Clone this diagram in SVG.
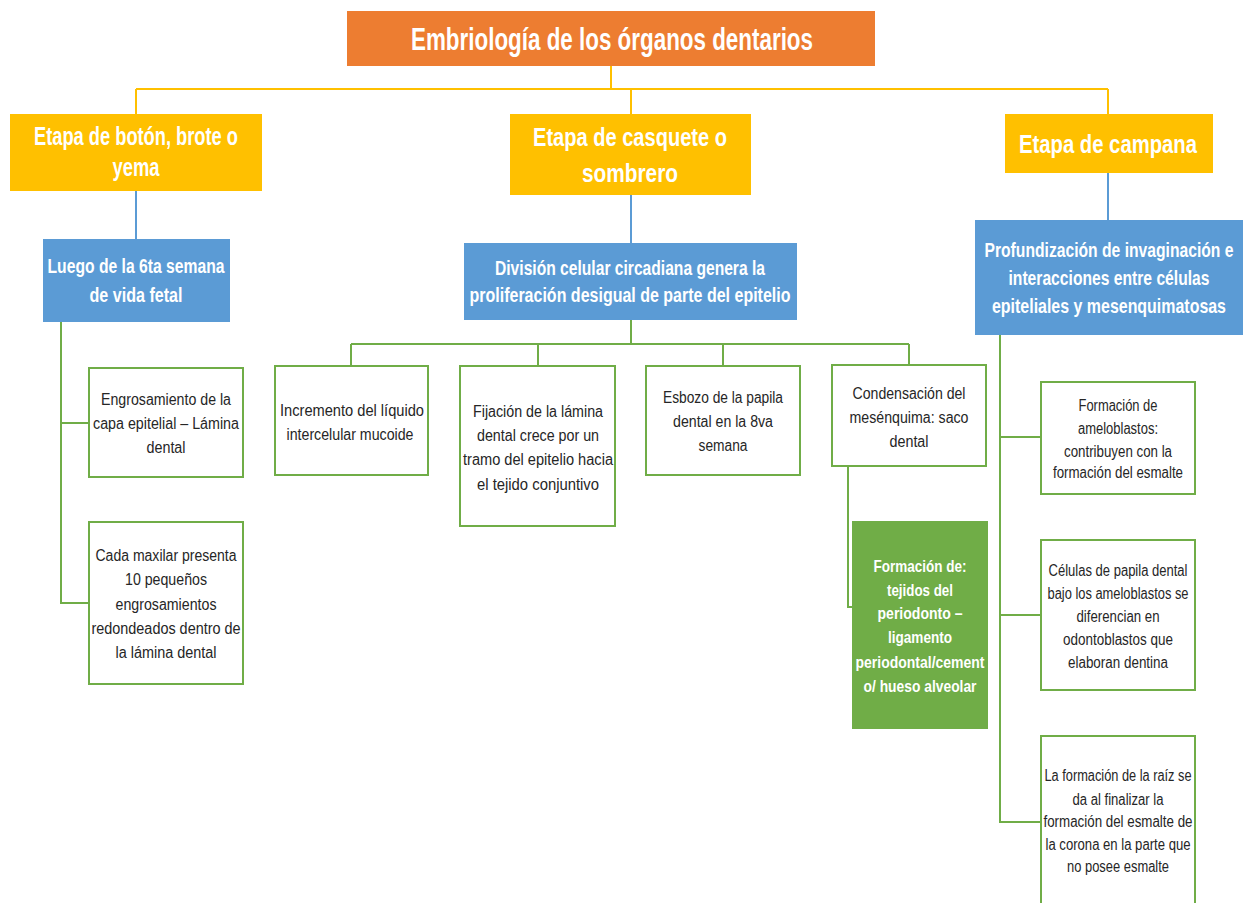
<svg xmlns="http://www.w3.org/2000/svg" width="1248" height="903" viewBox="0 0 1248 903">
<style>
text{font-family:"Liberation Sans",Arial,sans-serif;text-anchor:middle}
.t{fill:#fff;font-weight:bold}
.d{fill:#262626;font-size:16px}
.c{fill:none;stroke-width:2}
.y{stroke:#FFC000}
.b{stroke:#5B9BD5}
.g{stroke:#70AD47}
.gb{fill:#fff;stroke:#70AD47;stroke-width:2}
</style>
<rect width="1248" height="903" fill="#fff"/>
<g id="connectors">
<path class="c y" d="M611 66V89M136 89H1108M136 89V114M631 89V114M1108 89V114"/>
<path class="c b" d="M136 191V239M631 195V243M1108 173V220"/>
<path class="c g" d="M61 322V603H89M61 423H89"/>
<path class="c g" d="M631 320V344M351 344H909M351 344V366M538 344V366M723 344V366M909 344V365"/>
<path class="c g" d="M848 466V607H852"/>
<path class="c g" d="M1000 335V822H1041M1000 437H1041M1000 615H1041"/>
</g>
<g id="title"><rect x="347" y="11" width="528" height="55" fill="#ED7D31"/><text class="t" x="612" y="50" font-size="31" textLength="402" lengthAdjust="spacingAndGlyphs">Embriología de los órganos dentarios</text></g>
<g id="boton"><rect x="10" y="114" width="252" height="77" fill="#FFC000"/><text class="t" font-size="25" x="136" y="145" textLength="204" lengthAdjust="spacingAndGlyphs">Etapa de botón, brote o</text><text class="t" font-size="25" x="136" y="176" textLength="47" lengthAdjust="spacingAndGlyphs">yema</text></g>
<g id="casquete"><rect x="510" y="114" width="241" height="81" fill="#FFC000"/><text class="t" font-size="26" x="630" y="146" textLength="194" lengthAdjust="spacingAndGlyphs">Etapa de casquete o</text><text class="t" font-size="26" x="630" y="182" textLength="96" lengthAdjust="spacingAndGlyphs">sombrero</text></g>
<g id="campana"><rect x="1005" y="114" width="208" height="59" fill="#FFC000"/><text class="t" x="1108" y="153" font-size="26" textLength="178" lengthAdjust="spacingAndGlyphs">Etapa de campana</text></g>
<g id="b1"><rect x="43" y="239" width="187" height="83" fill="#5B9BD5"/><text class="t" font-size="20" x="136" y="273" textLength="177" lengthAdjust="spacingAndGlyphs">Luego de la 6ta semana</text><text class="t" font-size="20" x="136" y="302" textLength="93" lengthAdjust="spacingAndGlyphs">de vida fetal</text></g>
<g id="b2"><rect x="464" y="243" width="333" height="77" fill="#5B9BD5"/><text class="t" font-size="20" x="630" y="275" textLength="270" lengthAdjust="spacingAndGlyphs">División celular circadiana genera la</text><text class="t" font-size="20" x="630" y="302" textLength="321" lengthAdjust="spacingAndGlyphs">proliferación desigual de parte del epitelio</text></g>
<g id="b3"><rect x="975" y="220" width="268" height="115" fill="#5B9BD5"/><g transform="matrix(0.75 0 0 1 277.25 0)"><text class="t" font-size="20" x="1109" y="257" textLength="332" lengthAdjust="spacingAndGlyphs">Profundización de invaginación e</text><text class="t" font-size="20" x="1109" y="285" textLength="268" lengthAdjust="spacingAndGlyphs">interacciones entre células</text><text class="t" font-size="20" x="1109" y="313" textLength="312" lengthAdjust="spacingAndGlyphs">epiteliales y mesenquimatosas</text></g></g>
<g id="n1"><rect class="gb" x="89" y="368" width="154" height="109"/><text class="d" x="166" y="405" textLength="130" lengthAdjust="spacingAndGlyphs">Engrosamiento de la</text><text class="d" x="166" y="429" textLength="146" lengthAdjust="spacingAndGlyphs">capa epitelial – Lámina</text><text class="d" x="166" y="453" textLength="39" lengthAdjust="spacingAndGlyphs">dental</text></g>
<g id="n2"><rect class="gb" x="89" y="522" width="154" height="162"/><text class="d" x="166" y="561" textLength="141" lengthAdjust="spacingAndGlyphs">Cada maxilar presenta</text><text class="d" x="166" y="585" textLength="82" lengthAdjust="spacingAndGlyphs">10 pequeños</text><text class="d" x="166" y="610" textLength="101" lengthAdjust="spacingAndGlyphs">engrosamientos</text><text class="d" x="166" y="634" textLength="149" lengthAdjust="spacingAndGlyphs">redondeados dentro de</text><text class="d" x="166" y="658" textLength="101" lengthAdjust="spacingAndGlyphs">la lámina dental</text></g>
<g id="n3"><rect class="gb" x="275" y="366" width="153" height="109"/><text class="d" x="352" y="416" textLength="144" lengthAdjust="spacingAndGlyphs">Incremento del líquido</text><text class="d" x="350" y="440" textLength="127" lengthAdjust="spacingAndGlyphs">intercelular mucoide</text></g>
<g id="n4"><rect class="gb" x="460" y="366" width="155" height="160"/><text class="d" x="538" y="417" textLength="130" lengthAdjust="spacingAndGlyphs">Fijación de la lámina</text><text class="d" x="538" y="441" textLength="122" lengthAdjust="spacingAndGlyphs">dental crece por un</text><text class="d" x="538" y="465" textLength="150" lengthAdjust="spacingAndGlyphs">tramo del epitelio hacia</text><text class="d" x="538" y="490" textLength="122" lengthAdjust="spacingAndGlyphs">el tejido conjuntivo</text></g>
<g id="n5"><rect class="gb" x="646" y="366" width="154" height="109"/><text class="d" x="723" y="403" textLength="120" lengthAdjust="spacingAndGlyphs">Esbozo de la papila</text><text class="d" x="723" y="427" textLength="100" lengthAdjust="spacingAndGlyphs">dental en la 8va</text><text class="d" x="723" y="451" textLength="49" lengthAdjust="spacingAndGlyphs">semana</text></g>
<g id="n6"><rect class="gb" x="832" y="365" width="154" height="101"/><text class="d" x="909" y="399" textLength="113" lengthAdjust="spacingAndGlyphs">Condensación del</text><text class="d" x="909" y="423" textLength="119" lengthAdjust="spacingAndGlyphs">mesénquima: saco</text><text class="d" x="909" y="447" textLength="39" lengthAdjust="spacingAndGlyphs">dental</text></g>
<g id="n7"><rect x="852" y="521" width="136" height="208" fill="#70AD47"/><text class="t" font-size="17" x="920" y="572" textLength="93" lengthAdjust="spacingAndGlyphs">Formación de:</text><text class="t" font-size="17" x="920" y="596" textLength="66" lengthAdjust="spacingAndGlyphs">tejidos del</text><text class="t" font-size="17" x="920" y="619" textLength="85" lengthAdjust="spacingAndGlyphs">periodonto –</text><text class="t" font-size="17" x="920" y="643" textLength="64" lengthAdjust="spacingAndGlyphs">ligamento</text><text class="t" font-size="17" x="920" y="668" textLength="129" lengthAdjust="spacingAndGlyphs">periodontal/cement</text><text class="t" font-size="17" x="920" y="692" textLength="113" lengthAdjust="spacingAndGlyphs">o/ hueso alveolar</text></g>
<g id="n8"><rect class="gb" x="1041" y="382" width="154" height="112"/><text class="d" font-size="15" x="1118" y="411" textLength="79" lengthAdjust="spacingAndGlyphs">Formación de</text><text class="d" font-size="15" x="1118" y="434" textLength="80" lengthAdjust="spacingAndGlyphs">ameloblastos:</text><text class="d" font-size="15" x="1118" y="457" textLength="108" lengthAdjust="spacingAndGlyphs">contribuyen con la</text><text class="d" font-size="15" x="1118" y="478" textLength="130" lengthAdjust="spacingAndGlyphs">formación del esmalte</text></g>
<g id="n9"><rect class="gb" x="1041" y="540" width="154" height="150"/><text class="d" font-size="15" x="1118" y="576" textLength="139" lengthAdjust="spacingAndGlyphs">Células de papila dental</text><text class="d" font-size="15" x="1118" y="599" textLength="141" lengthAdjust="spacingAndGlyphs">bajo los ameloblastos se</text><text class="d" font-size="15" x="1118" y="622" textLength="83" lengthAdjust="spacingAndGlyphs">diferencian en</text><text class="d" font-size="15" x="1118" y="645" textLength="110" lengthAdjust="spacingAndGlyphs">odontoblastos que</text><text class="d" font-size="15" x="1118" y="668" textLength="100" lengthAdjust="spacingAndGlyphs">elaboran dentina</text></g>
<g id="n10"><rect class="gb" x="1041" y="736" width="154" height="180"/><text class="d" font-size="15" x="1118" y="781" textLength="147" lengthAdjust="spacingAndGlyphs">La formación de la raíz se</text><text class="d" font-size="15" x="1118" y="805" textLength="91" lengthAdjust="spacingAndGlyphs">da al finalizar la</text><text class="d" font-size="15" x="1118" y="827" textLength="149" lengthAdjust="spacingAndGlyphs">formación del esmalte de</text><text class="d" font-size="15" x="1118" y="850" textLength="145" lengthAdjust="spacingAndGlyphs">la corona en la parte que</text><text class="d" font-size="15" x="1118" y="872" textLength="102" lengthAdjust="spacingAndGlyphs">no posee esmalte</text></g>
</svg>
